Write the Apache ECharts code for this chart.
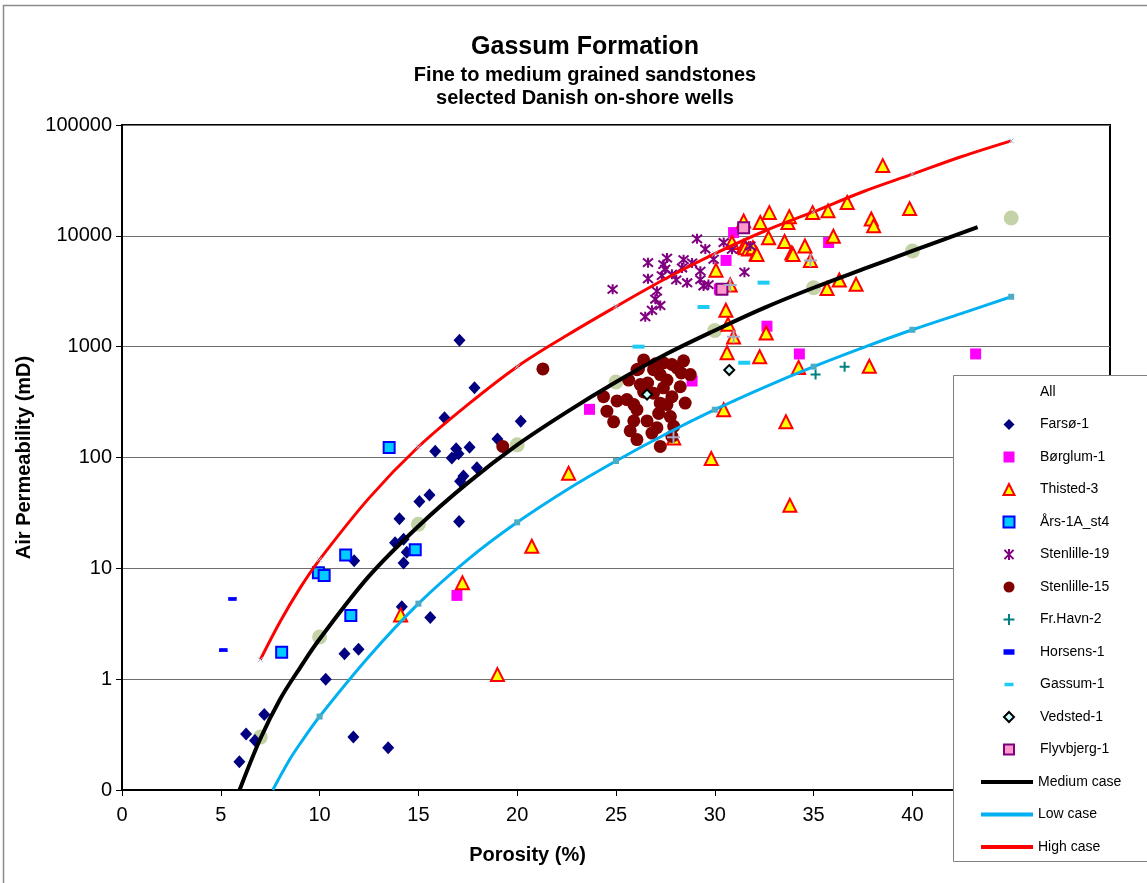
<!DOCTYPE html>
<html><head><meta charset="utf-8">
<script src="https://cdn.jsdelivr.net/npm/echarts@6/dist/echarts.min.js"></script>
<style>html,body{margin:0;padding:0;background:#fff}#c{width:1147px;height:883px}</style>
</head><body><div id="c"></div>
<script>
// ---------- data (porosity %, permeability mD) ----------
const farso = [[5.94,0.18],[6.28,0.32],[6.73,0.28],[7.2,0.48],[10.31,1.0],[11.26,1.7],[11.97,1.86],[11.71,0.30],[13.47,0.24],[11.75,11.7],[13.82,17],[14.04,28],[14.25,18.3],[14.41,14],[14.25,11.2],[14.16,4.5],[15.05,40],[15.56,46],[15.6,3.6],[15.85,114],[16.32,228],[16.69,99],[16.91,120],[17.03,108],[17.08,1140],[17.06,26.5],[17.11,61],[17.28,68],[17.59,124],[17.84,427],[17.96,81],[19.0,147],[20.18,212]];
const borglum = [[16.95,5.7],[23.66,272],[28.85,490],[30.23,3300],[30.57,6000],[30.95,10700],[32.64,1530],[34.28,860],[35.76,8700],[43.2,860]];
const thisted = [[14.1,3.8],[17.23,7.4],[19.0,1.1],[20.74,15.8],[22.6,72],[27.92,150],[29.82,98],[30.45,270],[30.06,4900],[30.56,2130],[30.62,880],[30.67,1590],[30.78,3600],[30.87,8700],[30.95,1220],[31.46,13600],[31.46,8000],[31.54,7800],[31.71,7600],[31.93,7800],[32.1,6900],[32.13,6800],[32.27,810],[32.3,13200],[32.6,1330],[32.72,9600],[32.76,16200],[33.53,8900],[33.6,210],[33.7,13200],[33.77,14900],[33.8,37],[33.9,7000],[33.96,6800],[34.24,650],[34.56,8100],[34.84,6000],[34.95,16200],[35.68,3350],[35.73,16800],[36.0,9900],[36.3,4000],[36.7,20000],[37.15,3650],[37.82,665],[37.92,14200],[38.04,12300],[38.5,43000],[39.86,17600]];
const ars = [[8.08,1.75],[9.94,9.1],[10.23,8.6],[11.32,13.2],[11.58,3.76],[13.52,123],[14.84,14.7]];
const stenlille19 = [[24.83,3290],[26.48,1860],[26.62,5730],[26.62,4100],[26.82,2130],[26.99,2680],[27.07,3170],[27.24,2350],[27.32,4370],[27.4,5500],[27.49,5000],[27.58,6300],[27.83,4500],[28.05,4000],[28.34,5130],[28.42,6100],[28.6,3770],[28.85,5700],[29.1,9400],[29.27,4800],[29.27,4030],[29.43,3530],[29.52,7600],[29.68,3630],[29.94,6150],[30.45,8700],[30.87,7550],[31.5,4700],[31.8,8100]];
const stenlille15 = [[19.27,126],[21.3,630],[24.37,354],[24.54,262],[24.88,210],[25.05,324],[25.55,333],[25.64,500],[25.72,174],[25.9,214],[26.06,620],[26.06,270],[26.06,145],[26.14,630],[26.23,455],[26.4,760],[26.57,214],[26.82,166],[26.9,620],[26.9,380],[27.07,186],[27.16,250],[27.24,309],[27.24,126],[27.24,560],[27.4,715],[27.4,425],[27.58,500],[27.58,300],[27.75,234],[27.83,690],[27.83,354],[27.83,155],[27.92,191],[28.25,435],[28.42,745],[28.5,310],[28.76,560],[26.4,390],[25.9,300],[26.6,470],[27.0,700],[28.1,640],[28.3,580]];
const frhavn = [[35.1,560],[36.57,660]];
const horsens = [[5.13,1.83],[5.59,5.3]];
const gassum = [[26.14,1000],[29.43,2280],[31.49,716],[32.47,3780]];
const vedsted = [[26.57,370],[30.73,615]];
const flyvbjerg = [[30.36,3300],[31.46,11800]];
const extraPlus = [[27.91,152],[30.78,3600],[30.95,1230],[34.84,6000]];
const allPts = [[7,0.3],[10,2.4],[15,25],[20,130],[25,480],[30,1400],[35,3400],[40,7300],[45,14500]];

const mediumX = [5.95,7,8,9,10,12.5,15,17.5,20,22.5,25,27.5,30,32.5,35,37.5,40,43.3];
const mediumY = [0.1,0.29,0.66,1.26,2.3,8.5,24,59,130,257,480,850,1400,2240,3400,5000,7300,12000];
const lowX = [7.63,8.5,9,10,12.5,15,17.5,20,22.5,25,27.5,30,32.5,35,37.5,40,42.5,45];
const lowY = [0.1,0.19,0.26,0.46,1.6,4.8,12,26,51,93,162,270,430,660,980,1420,2000,2820];
const highX = [7,8,9,10,12.5,15,17.5,20,22.5,25,27.5,30,32.5,35,37.5,40,42.5,45];
const highY = [1.5,3.3,6.6,12,43,125,300,660,1260,2300,4100,6900,11000,16500,25000,36000,52000,72000];
const lowMarkX = [10,15,20,25,30,35,40,45];
const lowMarkY = [0.46,4.8,26,93,270,660,1420,2820];
const highMarkX = [7,10,15,20,25,30,35,40,45];
const highMarkY = [1.5,12,125,660,2300,6900,16500,36000,72000];

const xTicks = [0,5,10,15,20,25,30,35,40,45,50];
const yTicks = [0.1,1,10,100,1000,10000,100000];

// ---------- chart ----------
const FONT = 'Liberation Sans, Arial, sans-serif';
const zip = (a,b) => a.map((v,i)=>[v,b[i]]);
const chart = echarts.init(document.getElementById('c'), null, {renderer:'canvas'});
const asterisk = 'path://M0,0L10,10M10,0L0,10M5,-1L5,11';
const plus = 'path://M5,0L5,10M0,5L10,5';

function sc(name, data, symbol, size, color, border, bw, extra) {
  return Object.assign({
    name, type:'scatter', data, symbol, symbolSize:size, z:2,
    itemStyle:{color, borderColor:border||color, borderWidth:bw||0, opacity:1},
    emphasis:{disabled:true}, silent:true
  }, extra||{});
}
const legTxt = pad => ({fontFamily:FONT, fontSize:14, color:'#000', padding:[0,0,0,pad]});
const GAP = 18.5;

const option = {
  animation:false,
  backgroundColor:'#fff',
  title:{
    text:'Gassum Formation',
    subtext:'Fine to medium grained sandstones\nselected Danish on-shore wells',
    left:580, textAlign:'center', top:30, itemGap:4,
    textStyle:{fontFamily:FONT, fontSize:25, fontWeight:'bold', color:'#000'},
    subtextStyle:{fontFamily:FONT, fontSize:20, fontWeight:'bold', color:'#000', lineHeight:23}
  },
  grid:{left:122, right:37, top:125, bottom:93, show:true, borderColor:'#000', borderWidth:2, backgroundColor:'transparent'},
  xAxis:{
    type:'value', min:0, max:50, interval:5,
    name:'Porosity (%)', nameLocation:'middle', nameGap:55,
    nameTextStyle:{fontFamily:FONT, fontSize:20, fontWeight:'bold', color:'#000', padding:[0,177,0,0]},
    axisLine:{show:true, lineStyle:{color:'#000', width:2}},
    axisTick:{show:true, inside:false, length:6, lineStyle:{color:'#000', width:1}},
    axisLabel:{fontFamily:FONT, fontSize:20, color:'#000', margin:15,
      formatter:v => xTicks.indexOf(v) >= 0 ? String(v) : ''},
    splitLine:{show:false}
  },
  yAxis:{
    type:'log', logBase:10, min:0.1, max:100000,
    name:'Air Permeability (mD)', nameLocation:'middle', nameGap:84, nameRotate:90,
    nameTextStyle:{fontFamily:FONT, fontSize:20, fontWeight:'bold', color:'#000'},
    axisLine:{show:true, lineStyle:{color:'#000', width:2}},
    axisTick:{show:true, inside:false, length:6, lineStyle:{color:'#000', width:1}},
    minorTick:{show:false},
    axisLabel:{fontFamily:FONT, fontSize:20, color:'#000', margin:10,
      formatter:v => { const r = yTicks.find(t => Math.abs(Math.log10(t) - Math.log10(v)) < 1e-6); if (r === undefined) return ''; return r < 1 ? '0' : String(r); }},
    splitLine:{show:true, lineStyle:{color:'#6e6e6e', width:1}}
  },
  legend:[
    {
      data:[{name:'All', itemStyle:{color:'rgba(0,0,0,0)', borderColor:'rgba(0,0,0,0)', borderWidth:0}},
        'Farsø-1','Børglum-1','Thisted-3','Års-1A_st4','Stenlille-19','Stenlille-15','Fr.Havn-2'],
      orient:'vertical', left:1002.5, top:385, itemWidth:11, itemHeight:11, itemGap:GAP,
      selectedMode:false, z:60, padding:0, textStyle:legTxt(20.5)
    },
    {
      data:['Horsens-1','Gassum-1'],
      orient:'vertical', left:1003.5, top:645, itemWidth:9, itemHeight:3.5, itemGap:GAP,
      selectedMode:false, z:60, padding:0, textStyle:legTxt(21.5)
    },
    {
      data:['Vedsted-1','Flyvbjerg-1'],
      orient:'vertical', left:1003, top:710, itemWidth:10, itemHeight:10, itemGap:GAP,
      selectedMode:false, z:60, padding:0, textStyle:legTxt(21)
    },
    {
      data:['Medium case','Low case','High case'],
      orient:'vertical', left:981, top:775, itemWidth:52, itemHeight:4, itemGap:GAP, icon:'rect',
      selectedMode:false, z:60, padding:0, textStyle:legTxt(0)
    }
  ],
  graphic:[
    {type:'rect', z:-10, silent:true, shape:{x:3.5, y:5.5, width:1200, height:1000},
     style:{fill:'none', stroke:'#8c8c8c', lineWidth:1.5}},
    {type:'rect', z:50, silent:true, shape:{x:953.5, y:375.5, width:220, height:486},
     style:{fill:'#fff', stroke:'#808080', lineWidth:1}}
  ],
  series:[
    sc('All', allPts, 'circle', 15, '#c4d2a8'),
    sc('Farsø-1', farso, 'diamond', [12,13], '#000080'),
    sc('Børglum-1', borglum, 'rect', 11, '#ff00ff'),
    sc('Thisted-3', thisted, 'triangle', 13, '#ffff00', '#ff0000', 2),
    sc('Års-1A_st4', ars, 'rect', 11, '#00ccff', '#0000ff', 2),
    sc('Stenlille-19', stenlille19, asterisk, 10, '#800080', '#800080', 2),
    sc('Stenlille-15', stenlille15, 'circle', 13, '#800000'),
    sc('Fr.Havn-2', frhavn, plus, 10, '#008080', '#008080', 2),
    sc('Horsens-1', horsens, 'rect', [7,3], '#0000ff', '#0000ff', 1),
    sc('Gassum-1', gassum, 'rect', [12,4], '#1ecbf5'),
    sc('Vedsted-1', vedsted, 'diamond', 10, '#ccffff', '#000000', 2),
    sc('Flyvbjerg-1', flyvbjerg, 'rect', 11, '#ff99cc', '#800080', 2),
    sc('extra', extraPlus, plus, 13, '#a8a8c8', '#a8a8c8', 2),
    {name:'Medium case', type:'line', data:zip(mediumX, mediumY), smooth:0.35, symbol:'none', z:4, silent:true,
      lineStyle:{color:'#000', width:4}, itemStyle:{color:'#000'}},
    {name:'Low case', type:'line', data:zip(lowX, lowY), smooth:0.35, symbol:'none', z:4, silent:true,
      lineStyle:{color:'#00b0f0', width:3}, itemStyle:{color:'#00b0f0'}},
    {name:'High case', type:'line', data:zip(highX, highY), smooth:0.35, symbol:'none', z:4, silent:true,
      lineStyle:{color:'#ff0000', width:3}, itemStyle:{color:'#ff0000'}},
    sc('lowMarks', zip(lowMarkX, lowMarkY), 'rect', 6, '#4bacc6', null, 0, {z:5}),
    sc('highMarks', zip(highMarkX, highMarkY), 'path://M0,0L10,10M10,0L0,10', 5, '#a8b8d8', '#a8b8d8', 1, {z:5})
  ]
};
chart.setOption(option);
</script></body></html>
